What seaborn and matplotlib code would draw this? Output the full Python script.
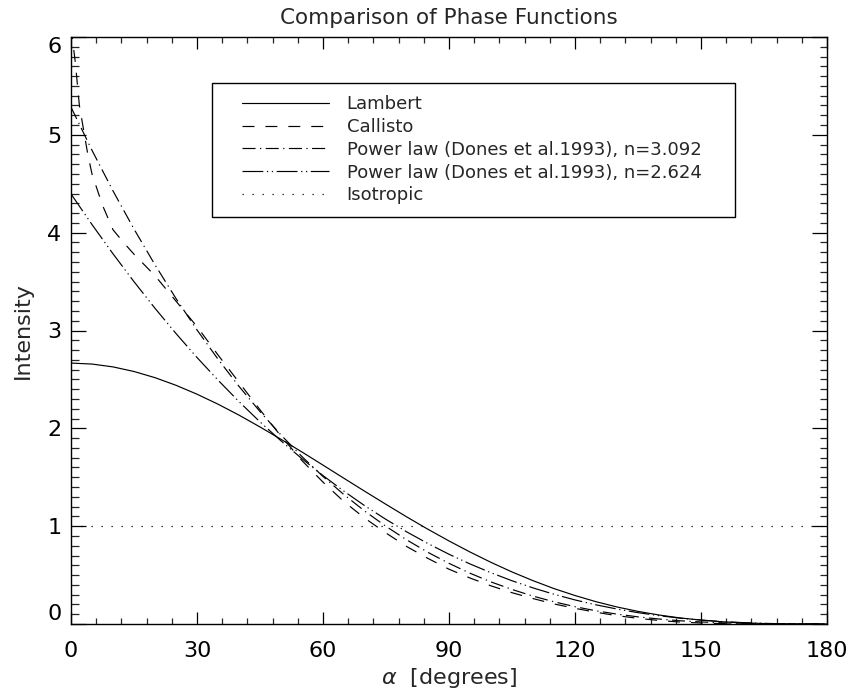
import matplotlib
matplotlib.use("Agg")
import matplotlib.pyplot as plt
import numpy as np
import pandas as pd
import seaborn as sns
from matplotlib.patches import Rectangle
from matplotlib.ticker import MultipleLocator

# Phase angle grid (degrees) shared by the smooth model curves
alpha = [0, 5, 10, 15, 20, 25, 30, 35, 40, 45, 50, 55, 60, 65, 70, 75, 80, 85, 90,
         95, 100, 105, 110, 115, 120, 125, 130, 135, 140, 145, 150, 155, 160, 165,
         170, 175, 180]

lambert = [2.667, 2.657, 2.628, 2.581, 2.518, 2.440, 2.349, 2.247, 2.135, 2.014,
           1.888, 1.758, 1.624, 1.489, 1.355, 1.223, 1.093, 0.968, 0.849, 0.736,
           0.630, 0.532, 0.443, 0.362, 0.291, 0.228, 0.174, 0.129, 0.092, 0.062,
           0.040, 0.023, 0.012, 0.005, 0.0015, 0.0002, 0.0]

power_3092 = [5.283, 4.842, 4.427, 4.037, 3.671, 3.327, 3.006, 2.707, 2.429, 2.171,
              1.932, 1.711, 1.508, 1.322, 1.152, 0.998, 0.858, 0.732, 0.620, 0.519,
              0.430, 0.353, 0.285, 0.227, 0.177, 0.135, 0.101, 0.073, 0.051, 0.033,
              0.021, 0.012, 0.006, 0.0024, 0.0007, 0.0001, 0.0]

power_2624 = [4.396, 4.083, 3.784, 3.499, 3.227, 2.969, 2.724, 2.493, 2.273, 2.066,
              1.872, 1.689, 1.517, 1.357, 1.207, 1.069, 0.940, 0.822, 0.713, 0.614,
              0.524, 0.442, 0.369, 0.304, 0.246, 0.196, 0.153, 0.116, 0.085, 0.060,
              0.040, 0.025, 0.014, 0.0065, 0.0022, 0.0003, 0.0]

callisto_alpha = [0, 1, 2, 3, 4, 5, 7.5, 10, 12.5, 15, 20, 25, 30, 35, 40, 45, 50, 55,
                  60, 65, 70, 75, 80, 85, 90, 95, 100, 105, 110, 115, 120, 125, 130,
                  135, 140, 145, 150, 155, 160, 170, 180]
callisto = [6.10, 5.75, 5.30, 5.05, 4.80, 4.60, 4.28, 4.03, 3.90, 3.78, 3.56, 3.30,
            3.04, 2.75, 2.47, 2.19, 1.92, 1.67, 1.45, 1.25, 1.08, 0.93, 0.79, 0.67,
            0.56, 0.47, 0.39, 0.32, 0.26, 0.205, 0.16, 0.12, 0.085, 0.058, 0.036,
            0.020, 0.010, 0.004, 0.001, 0.0, 0.0]

isotropic_alpha = [0, 180]
isotropic = [1.0, 1.0]

labels = ["Lambert", "Callisto",
          "Power law (Dones et al.1993), n=3.092",
          "Power law (Dones et al.1993), n=2.624",
          "Isotropic"]

frames = [
    pd.DataFrame({"alpha": alpha, "intensity": lambert, "model": labels[0]}),
    pd.DataFrame({"alpha": callisto_alpha, "intensity": callisto, "model": labels[1]}),
    pd.DataFrame({"alpha": alpha, "intensity": power_3092, "model": labels[2]}),
    pd.DataFrame({"alpha": alpha, "intensity": power_2624, "model": labels[3]}),
    pd.DataFrame({"alpha": isotropic_alpha, "intensity": isotropic, "model": labels[4]}),
]
data = pd.concat(frames, ignore_index=True)

sns.set_theme(style="ticks")
plt.rcParams["font.family"] = ["DejaVu Sans"]
plt.rcParams["lines.scale_dashes"] = False
plt.rcParams["mathtext.fontset"] = "dejavusans"

# dash patterns in points (on, off, ...)
dash_styles = {
    labels[0]: "",
    labels[1]: (8.6, 7.9),
    labels[2]: (9.4, 3.2, 0.9, 3.2),
    labels[3]: (15.0, 2.6, 0.9, 2.6, 0.9, 2.6),
    labels[4]: (0.9, 6.3),
}

fig = plt.figure(figsize=(8.49, 6.95), dpi=100)
W, H = 849.0, 695.0
x0, x1, y0, y1 = 71, 827, 37, 624
ax = fig.add_axes([x0 / W, 1 - y1 / H, (x1 - x0) / W, (y1 - y0) / H])

sns.lineplot(data=data, x="alpha", y="intensity", hue="model", style="model",
             hue_order=labels, style_order=labels,
             palette=["black"] * 5, dashes=dash_styles, markers=False,
             estimator=None, sort=True, linewidth=0.85, ax=ax, legend=False)

ax.set_xlim(0, 180)
ax.set_ylim(0, 6)
ax.xaxis.set_major_locator(MultipleLocator(30))
ax.xaxis.set_minor_locator(MultipleLocator(6))
ax.yaxis.set_major_locator(MultipleLocator(1))
ax.yaxis.set_minor_locator(MultipleLocator(0.1))

for side in ax.spines.values():
    side.set_linewidth(1.0)
    side.set_color("black")

ax.tick_params(axis="x", which="major", direction="in", top=True, bottom=True,
               length=8.4, width=0.9, pad=12, labelsize=16, colors="black")
ax.tick_params(axis="x", which="minor", direction="in", top=True, bottom=True,
               length=4.2, width=0.9)
ax.tick_params(axis="y", which="major", direction="in", left=True, right=True,
               length=10.8, width=0.9, pad=7, labelsize=16, colors="black")
ax.tick_params(axis="y", which="minor", direction="in", left=True, right=True,
               length=5.4, width=0.9)

ax.set_yticks([0, 1, 2, 3, 4, 5, 6])
yticks = ax.yaxis.get_major_ticks()
yticks[0].label1.set_va("bottom")
yticks[-1].label1.set_va("top")

ax.set_xlabel(r"$\alpha$  [degrees]", fontsize=16, labelpad=4)
ax.set_ylabel("Intensity", fontsize=16, labelpad=10)
ax.set_title("Comparison of Phase Functions", fontsize=15.5, pad=9)

# legend with a separately drawn frame
handles = ax.get_lines()[:5]
leg = ax.legend(handles, labels, loc="upper left", frameon=False,
                bbox_to_anchor=(241.7 / W, 1 - 95 / H), bbox_transform=fig.transFigure,
                borderpad=0, borderaxespad=0, handlelength=4.85, handletextpad=0.96,
                labelspacing=0.27, fontsize=13)
fig.patches.append(Rectangle((212 / W, 1 - 217 / H), (735 - 212) / W, (217 - 83) / H,
                             transform=fig.transFigure, fill=False,
                             edgecolor="black", linewidth=1.0))

fig.savefig("out.png", dpi=100)
